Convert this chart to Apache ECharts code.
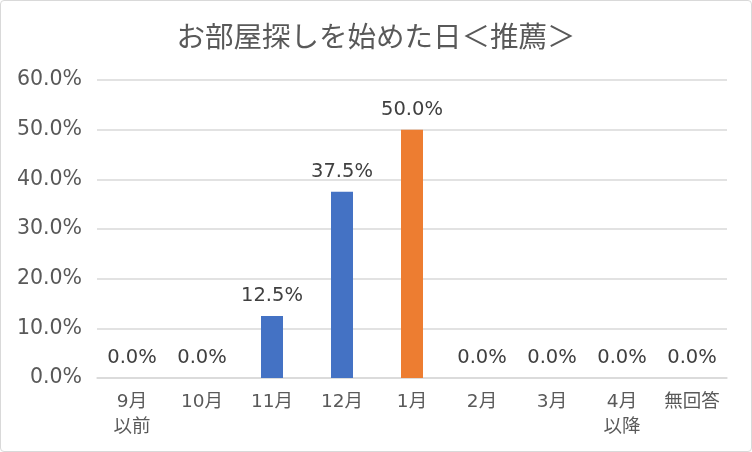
<!DOCTYPE html>
<html><head><meta charset="utf-8">
<script src="https://cdn.jsdelivr.net/npm/echarts@6/dist/echarts.min.js"></script>
<style>
html,body{margin:0;padding:0;background:#fff;}
#wrap{position:absolute;left:0;top:0;width:750px;height:450px;border:1px solid #d9d9d9;border-radius:4px;}
#c{width:750px;height:450px;}
</style></head>
<body><div id="wrap"><div id="c"></div></div>
<script>
const titleText = 'お部屋探しを始めた日＜推薦＞';
const categories = ['9月\n以前', '10月', '11月', '12月', '1月', '2月', '3月', '4月\n以降', '無回答'];
const values = [0, 0, 12.5, 37.5, 50, 0, 0, 0, 0];
const highlightCategory = '1月';
const yTicks = [0, 10, 20, 30, 40, 50, 60];

const FONT = '"DejaVu Sans", "Noto Sans CJK JP", sans-serif';
const chart = echarts.init(document.getElementById('c'), null, {renderer: 'canvas'});
chart.setOption({
  animation: false,
  title: {
    text: titleText, left: 'center', top: 16,
    textStyle: {fontFamily: '"Noto Sans CJK JP", sans-serif', fontSize: 28.5, fontWeight: 'normal', color: '#595959'}
  },
  grid: {left: 96, right: 24, top: 79, bottom: 73, containLabel: false},
  xAxis: {
    type: 'category', data: categories,
    axisLine: {lineStyle: {color: '#d9d9d9', width: 1.5}},
    axisTick: {show: false},
    axisLabel: {color: '#595959', fontFamily: FONT, fontSize: 18.5, margin: 12, lineHeight: 25, interval: 0}
  },
  yAxis: {
    type: 'value', min: yTicks[0], max: yTicks[yTicks.length - 1], interval: yTicks[1] - yTicks[0],
    axisLine: {show: false}, axisTick: {show: false},
    splitLine: {lineStyle: {color: '#d9d9d9', width: 1.5}},
    axisLabel: {color: '#595959', fontFamily: FONT, fontSize: 20.5, margin: 15,
      formatter: v => v.toFixed(1) + '%'}
  },
  series: [{
    type: 'bar', barWidth: 22,
    data: values.map((v, i) => ({
      value: v,
      itemStyle: {color: categories[i] === highlightCategory ? '#ED7D31' : '#4472C4'}
    })),
    label: {show: true, position: 'top', distance: 10, color: '#404040', fontFamily: FONT, fontSize: 19.5,
      formatter: p => p.value.toFixed(1) + '%'}
  }]
});
</script></body></html>
